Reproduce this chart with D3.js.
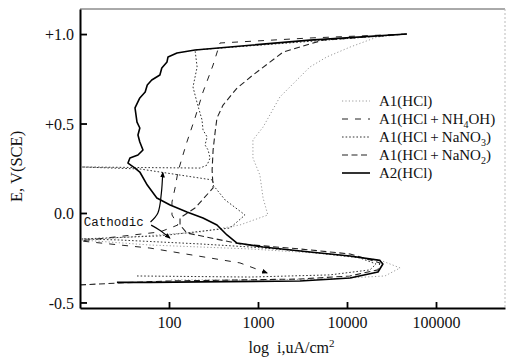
<!DOCTYPE html>
<html>
<head>
<meta charset="utf-8">
<script src="https://cdn.jsdelivr.net/npm/d3@7/dist/d3.min.js"></script>
<style>
  html, body { margin: 0; padding: 0; background: #fff; }
  svg text { font-family: 'Liberation Serif', 'Times New Roman', serif; fill: #111; }
</style>
</head>
<body>
<div id="chart"></div>
<script>
// polarization curves: E (V vs SCE) against current density (uA/cm2, log axis)

const xTicks = [100, 1000, 10000, 100000];
const yTicks = [-0.5, 0, 0.5, 1.0];

// [i (uA/cm2), E (V)]
const a1Hcl = [[47000,1.0],[21700,0.983],[10800,0.927],[5930,0.872],[3830,0.816],[1760,0.648],[1140,0.480],[877,0.408],[877,0.307],[1050,0.212],[1140,0.084],[1290,-0.011],[627,-0.067],[223,-0.106],[36.4,-0.134],[10.5,-0.151],[61,-0.179],[812,-0.201],[6430,-0.229],[23400,-0.263],[39500,-0.307],[26700,-0.352],[6430,-0.369],[812,-0.374],[103,-0.374]];
const a1Nh4oh = [[47000,1.0],[3830,0.978],[374,0.950],[313,0.827],[241,0.676],[196,0.531],[159,0.397],[140,0.307],[126,0.229],[117,0.140],[108,0.061],[108,-0.011],[126,-0.067],[79,-0.106],[10,-0.156],[61,-0.196],[627,-0.279],[1260,-0.335]];
const a1Nano3 = [[43.7,-0.352],[812,-0.358],[6430,-0.346],[18100,-0.318],[21200,-0.285],[13900,-0.251],[2960,-0.212],[812,-0.190],[223,-0.173],[28,-0.151],[10.5,-0.145],[79,-0.128],[485,-0.084],[715,-0.011],[427,0.073],[313,0.156],[313,0.184],[47,0.246],[10.5,0.257],[223,0.251],[268,0.268],[289,0.307],[275,0.352],[254,0.380],[268,0.425],[241,0.464],[235,0.520],[207,0.615],[186,0.704],[207,0.816],[196,0.911],[2960,0.955],[47000,1.0]];
const a1Nano2 = [[10,-0.402],[28,-0.391],[103,-0.380],[2960,-0.369],[10800,-0.352],[22300,-0.318],[23400,-0.279],[10800,-0.229],[2960,-0.201],[627,-0.173],[159,-0.112],[133,-0.067],[133,-0.028],[196,0.028],[313,0.140],[305,0.240],[313,0.352],[330,0.453],[346,0.531],[405,0.603],[581,0.698],[877,0.771],[1910,0.899],[5370,0.966],[47000,1.0]];
const a2Hcl = [[26,-0.388],[60,-0.388],[223,-0.385],[2960,-0.380],[10800,-0.363],[22300,-0.330],[25300,-0.285],[23400,-0.265],[10800,-0.240],[3830,-0.218],[1140,-0.190],[581,-0.168],[448,-0.123],[346,-0.067],[241,-0.028],[159,0.006],[103,0.045],[73,0.084],[57,0.156],[47,0.229],[41.5,0.251],[34.6,0.279],[36.4,0.307],[44.8,0.324],[51,0.352],[47,0.397],[44.8,0.436],[47,0.475],[43.7,0.508],[41.5,0.587],[47,0.643],[54,0.676],[57,0.715],[64,0.743],[79,0.771],[83,0.810],[95,0.844],[97.5,0.872],[123,0.894],[196,0.911],[3830,0.966],[47000,1.0]];

const seriesNames = ['A1(HCl)', 'A1(HCl+NH4OH)', 'A1(HCl+NaNO3)', 'A1(HCl+NaNO2)', 'A2(HCl)'];

// "Cathodic" note and its two arrows, in data units
const noteAt = [11, -0.070];
const arrowUp = [[62, -0.050], [75, 0.00], [82, 0.110], [85, 0.225]];
const arrowDown = [[63, -0.068], [78, -0.095], [102, -0.140]];

const W = 515, H = 359;
const margin = { top: 9, right: 10, bottom: 51, left: 80 };

const svg = d3.select('#chart').append('svg')
  .attr('width', W).attr('height', H);

const x = d3.scaleLog().domain([10, 596000]).range([margin.left, W - margin.right]);
const y = d3.scaleLinear().domain([-0.531, 1.14]).range([H - margin.bottom, margin.top]);

const styles = [
  { data: a1Hcl,   stroke: '#9a9a9a', width: 1,   dash: '1.2,2.2', arrow: false },
  { data: a1Nh4oh, stroke: '#222',    width: 1,   dash: '6,7',     arrow: true },
  { data: a1Nano3, stroke: '#333',    width: 1,   dash: '1.6,2',   arrow: false },
  { data: a1Nano2, stroke: '#222',    width: 1.1, dash: '6,3.5',   arrow: false },
  { data: a2Hcl,   stroke: '#000',    width: 1.6, dash: null,      arrow: false }
];

svg.append('defs').append('marker')
  .attr('id', 'ah').attr('viewBox', '0 0 10 10')
  .attr('refX', 8).attr('refY', 5)
  .attr('markerWidth', 6).attr('markerHeight', 6)
  .attr('markerUnits', 'userSpaceOnUse')
  .attr('orient', 'auto')
  .append('path').attr('d', 'M0,1 L10,5 L0,9 Z').attr('fill', '#000');

// faint top / right frame
svg.append('line')
  .attr('x1', x.range()[0]).attr('x2', x.range()[1])
  .attr('y1', y.range()[1]).attr('y2', y.range()[1])
  .attr('stroke', '#555').attr('stroke-width', 1);
svg.append('line')
  .attr('x1', x.range()[1]).attr('x2', x.range()[1])
  .attr('y1', y.range()[1]).attr('y2', y.range()[0])
  .attr('stroke', '#bbb').attr('stroke-width', 1).attr('stroke-dasharray', '2,2');

const line = d3.line().x(d => x(d[0])).y(d => y(d[1]));

svg.append('g').selectAll('path')
  .data(styles)
  .enter().append('path')
  .attr('d', d => line(d.data))
  .attr('fill', 'none')
  .attr('stroke', d => d.stroke)
  .attr('stroke-width', d => d.width)
  .attr('stroke-dasharray', d => d.dash)
  .attr('stroke-linejoin', 'round')
  .attr('marker-end', d => d.arrow ? 'url(#ah)' : null);

// axes
const xAxis = d3.axisBottom(x).tickValues(xTicks).tickFormat(d3.format('d'))
  .tickSizeInner(-6).tickSizeOuter(0).tickPadding(9);
const yAxis = d3.axisLeft(y).tickValues(yTicks)
  .tickFormat(d => d > 0 ? '+' + d.toFixed(1) : d.toFixed(1))
  .tickSizeInner(-7).tickSizeOuter(0).tickPadding(6);

const gx = svg.append('g').attr('transform', `translate(0,${y.range()[0]})`).call(xAxis);
const gy = svg.append('g').attr('transform', `translate(${x.range()[0]},0)`).call(yAxis);

[gx, gy].forEach(g => {
  g.select('.domain').attr('stroke', '#000').attr('stroke-width', 2);
  g.selectAll('.tick line').attr('stroke', '#000').attr('stroke-width', 1.8);
  g.selectAll('.tick text')
    .style('font-family', "'Liberation Serif', serif")
    .style('font-size', '16px')
    .attr('fill', '#000');
});
gy.selectAll('.tick text').attr('dy', '0.36em');

// axis titles
svg.append('text')
  .attr('x', (x.range()[0] + x.range()[1]) / 2 - 1)
  .attr('y', 353)
  .attr('text-anchor', 'middle')
  .style('font-size', '16px')
  .html('log&#160;&#160;i,uA/cm<tspan dy="-6" font-size="11">2</tspan>');

svg.append('text')
  .attr('transform', `translate(22,${y(0.26)}) rotate(-90)`)
  .attr('text-anchor', 'middle')
  .style('font-size', '16.5px')
  .text('E, V(SCE)');

// legend
const legend = svg.append('g');
const legendY = [101, 119, 137, 155, 173];
const labels = [
  'A1(HCl)',
  'A1(HCl\u2009+\u2009NH<tspan dy="4" font-size="10">4</tspan><tspan dy="-4">OH)</tspan>',
  'A1(HCl\u2009+\u2009NaNO<tspan dy="4" font-size="10">3</tspan><tspan dy="-4">)</tspan>',
  'A1(HCl\u2009+\u2009NaNO<tspan dy="4" font-size="10">2</tspan><tspan dy="-4">)</tspan>',
  'A2(HCl)'
];
styles.forEach((s, i) => {
  legend.append('line')
    .attr('x1', 342).attr('x2', 370)
    .attr('y1', legendY[i]).attr('y2', legendY[i])
    .attr('stroke', s.stroke)
    .attr('stroke-width', s.width)
    .attr('stroke-dasharray', s.dash);
  legend.append('text')
    .attr('x', 379).attr('y', legendY[i] + 5)
    .style('font-size', '15px')
    .html(labels[i]);
});

// "Cathodic" annotation
svg.append('text')
  .attr('x', x(noteAt[0])).attr('y', y(noteAt[1]))
  .style('font-family', "'Liberation Mono', 'DejaVu Sans Mono', monospace")
  .style('font-size', '12.5px')
  .attr('fill', '#222')
  .text('Cathodic');

const curvy = d3.line().x(d => x(d[0])).y(d => y(d[1])).curve(d3.curveCatmullRom);
[arrowUp, arrowDown].forEach(a => {
  svg.append('path')
    .attr('d', curvy(a))
    .attr('fill', 'none')
    .attr('stroke', '#000')
    .attr('stroke-width', 1.2)
    .attr('marker-end', 'url(#ah)');
});
</script>
</body>
</html>
